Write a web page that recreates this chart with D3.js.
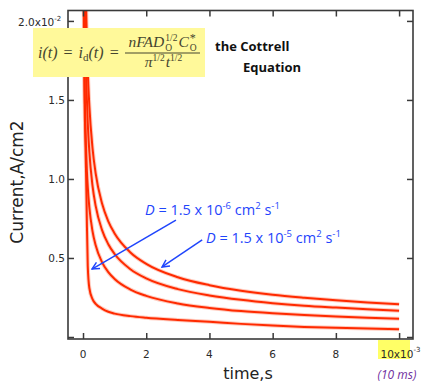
<!DOCTYPE html>
<html>
<head>
<meta charset="utf-8">
<script src="https://cdn.jsdelivr.net/npm/d3@7"></script>
<style>
body { margin:0; background:#fff; }
svg { display:block; }
</style>
</head>
<body>
<div id="chart"></div>
<script>
// time in ms, current in units of 10^-2 A/cm2
var timeMs = [0.02, 0.03, 0.05, 0.08, 0.1, 0.12, 0.15, 0.2, 0.3, 0.4, 0.6, 0.8, 1, 1.5, 2, 3, 4, 5, 6, 7, 8, 9, 10]
var curveA = [4.63, 3.78, 2.93, 2.32, 2.07, 1.89, 1.69, 1.465, 1.196, 1.036, 0.846, 0.732, 0.655, 0.535, 0.463, 0.378, 0.328, 0.293, 0.267, 0.248, 0.232, 0.218, 0.207]
var curveB = [3.71, 3.03, 2.35, 1.86, 1.66, 1.52, 1.356, 1.174, 0.958, 0.83, 0.678, 0.587, 0.525, 0.429, 0.371, 0.303, 0.263, 0.235, 0.214, 0.198, 0.186, 0.175, 0.166]
var curveC = [2.6, 2.12, 1.64, 1.3, 1.16, 1.06, 0.948, 0.821, 0.67, 0.58, 0.474, 0.41, 0.367, 0.3, 0.26, 0.212, 0.184, 0.164, 0.15, 0.139, 0.13, 0.122, 0.116]
var curveD = [2.3, 1.9, 1.5, 1.2, 1.0, 0.75, 0.45, 0.31, 0.24, 0.21, 0.18, 0.16, 0.148, 0.132, 0.122, 0.108, 0.096, 0.083, 0.072, 0.064, 0.058, 0.053, 0.049]
var seriesList = [curveA, curveB, curveC, curveD]

var xTicks = [0, 2, 4, 6, 8]
var yTicks = [0.5, 1.0, 1.5]
var xTickAll = [0, 2, 4, 6, 8, 10]
var yTickAll = [0, 0.5, 1.0, 1.5, 2.0]

var W = 424, H = 382
var svg = d3.select("#chart").append("svg").attr("width", W).attr("height", H)

var x = d3.scaleLinear().domain([-0.475, 10.44]).range([68, 413])
var y = d3.scaleLinear().domain([-0.0127, 2.066]).range([339, 10.5])

var blue = "#1f45fc"
var red = "#ff2a00"
var axisCol = "#3a3a3a"

// clip
svg.append("clipPath").attr("id", "clip")
	.append("rect")
	.attr("x", x.range()[0]).attr("y", y.range()[1])
	.attr("width", x.range()[1] - x.range()[0])
	.attr("height", y.range()[0] - y.range()[1])

var line = d3.line()
	.x(function(d, i){ return x(timeMs[i]) })
	.y(function(d){ return y(d) })
	.curve(d3.curveMonotoneX)

var curves = svg.append("g").attr("clip-path", "url(#clip)")
curves.selectAll("path.glow")
	.data(seriesList)
	.enter()
	.append("path")
	.attr("class", "glow")
	.attr("d", line)
	.attr("fill", "none")
	.attr("stroke", "#ff9a80")
	.attr("stroke-width", 4)
	.attr("stroke-opacity", 0.5)
curves.selectAll("path.main")
	.data(seriesList)
	.enter()
	.append("path")
	.attr("class", "main")
	.attr("d", line)
	.attr("fill", "none")
	.attr("stroke", red)
	.attr("stroke-width", 2)

// frame
svg.append("rect")
	.attr("x", x.range()[0]).attr("y", y.range()[1])
	.attr("width", x.range()[1] - x.range()[0])
	.attr("height", y.range()[0] - y.range()[1])
	.attr("fill", "none")
	.attr("stroke", axisCol)
	.attr("stroke-width", 1.6)

// inward ticks on all four sides
var tickLen = 6
svg.append("g").attr("transform", "translate(0," + y.range()[0] + ")")
	.call(d3.axisTop(x).tickValues(xTickAll).tickSize(tickLen).tickFormat(""))
svg.append("g").attr("transform", "translate(0," + y.range()[1] + ")")
	.call(d3.axisBottom(x).tickValues(xTickAll).tickSize(tickLen).tickFormat(""))
svg.append("g").attr("transform", "translate(" + x.range()[0] + ",0)")
	.call(d3.axisRight(y).tickValues(yTickAll).tickSize(tickLen).tickFormat(""))
svg.append("g").attr("transform", "translate(" + x.range()[1] + ",0)")
	.call(d3.axisLeft(y).tickValues(yTickAll).tickSize(tickLen).tickFormat(""))
svg.selectAll(".domain").remove()
svg.selectAll(".tick line").attr("stroke", axisCol).attr("stroke-width", 1.5)

// tick labels
var labFont = "'DejaVu Sans', sans-serif"
svg.selectAll("text.xl")
	.data(xTicks)
	.enter()
	.append("text")
	.attr("class", "xl")
	.attr("x", function(d){ return x(d) })
	.attr("y", 357.5)
	.attr("text-anchor", "middle")
	.attr("font-family", labFont)
	.attr("font-size", 10.5)
	.attr("fill", "#2a2a2a")
	.text(function(d){ return d })

svg.selectAll("text.yl")
	.data(yTicks)
	.enter()
	.append("text")
	.attr("class", "yl")
	.attr("x", 65)
	.attr("y", function(d){ return y(d) + 4 })
	.attr("text-anchor", "end")
	.attr("font-family", labFont)
	.attr("font-size", 10.5)
	.attr("fill", "#2a2a2a")
	.text(function(d){ return d.toFixed(1) })

// 2.0x10^-2 label
var topLab = svg.append("text")
	.attr("x", 18).attr("y", 25.5)
	.attr("font-family", labFont)
	.attr("font-size", 10.5)
	.attr("fill", "#2a2a2a")
topLab.append("tspan").text("2.0x10")
topLab.append("tspan").attr("dy", -5).attr("font-size", 7).text("-2")

// 10x10^-3 label with highlight
svg.append("rect")
	.attr("x", 378).attr("y", 340)
	.attr("width", 32).attr("height", 19)
	.attr("fill", "#ffff66")
var endLab = svg.append("text")
	.attr("x", 380.5).attr("y", 357.5)
	.attr("font-family", labFont)
	.attr("font-size", 10.5)
	.attr("fill", "#2a2a2a")
endLab.append("tspan").text("10x10")
endLab.append("tspan").attr("dy", -6).attr("font-size", 7).text("-3")

svg.append("text")
	.attr("x", 397).attr("y", 378.5)
	.attr("text-anchor", "middle")
	.attr("font-family", "'Open Sans', sans-serif")
	.attr("font-style", "italic")
	.attr("font-size", 12)
	.attr("fill", "#7030a0")
	.text("(10 ms)")

// axis titles
svg.append("text")
	.attr("x", 248).attr("y", 379)
	.attr("text-anchor", "middle")
	.attr("font-family", labFont)
	.attr("font-size", 16)
	.attr("fill", "#222")
	.text("time,s")

svg.append("text")
	.attr("transform", "translate(23,182) rotate(-90)")
	.attr("text-anchor", "middle")
	.attr("font-family", labFont)
	.attr("font-size", 17)
	.attr("fill", "#222")
	.text("Current,A/cm2")

// equation box
svg.append("rect")
	.attr("x", 33).attr("y", 28)
	.attr("width", 172).attr("height", 49)
	.attr("fill", "#fff99a")

var eqCol = "#45452f"
var serif = "'Liberation Serif', 'DejaVu Serif', serif"
function piece(g, px, py, str, size, italic) {
	var t = g.append("text")
		.attr("x", px).attr("y", py)
		.attr("font-family", serif)
		.attr("font-size", size)
		.attr("font-style", italic ? "italic" : "normal")
		.attr("fill", eqCol)
		.text(str)
	return t.node().getComputedTextLength()
}
var eq = svg.append("g")
var cx = 38, by = 58, gap = 6
cx += piece(eq, cx, by, "i(t)", 16, true) + gap
cx += piece(eq, cx, by, "=", 16, false) + gap
cx += piece(eq, cx, by, "i", 16, true)
cx += piece(eq, cx, by + 3, "d", 11, false)
cx += piece(eq, cx, by, "(t)", 16, true) + gap
cx += piece(eq, cx, by, "=", 16, false)

var num = svg.append("g")
var nx = 0, ny = 47
nx += piece(num, nx, ny, "nFAD", 15.5, true)
var w1 = piece(num, nx + 1, ny - 6, "1/2", 9.5, false)
var w2 = piece(num, nx + 1, ny + 3.5, "O", 9.5, false)
nx += Math.max(w1, w2) + 2
nx += piece(num, nx, ny, "C", 15.5, true)
w1 = piece(num, nx + 1, ny - 5.5, "*", 12, false)
w2 = piece(num, nx + 1, ny + 3.5, "O", 9.5, false)
nx += Math.max(w1, w2) + 1
num.attr("transform", "translate(" + (162.5 - nx / 2) + ",0)")

var den = svg.append("g")
var dx = 0, dy = 67
dx += piece(den, dx, dy, "\u03c0", 15.5, true)
dx += piece(den, dx, dy - 6, "1/2", 9.5, false) + 1
dx += piece(den, dx, dy, "t", 15.5, true)
dx += piece(den, dx, dy - 6, "1/2", 9.5, false)
den.attr("transform", "translate(" + (163.5 - dx / 2) + ",0)")

svg.append("line")
	.attr("x1", 125).attr("x2", 200)
	.attr("y1", 53).attr("y2", 53)
	.attr("stroke", eqCol).attr("stroke-width", 1)

// Cottrell caption
var capFont = "'Open Sans', sans-serif"
svg.append("text")
	.attr("x", 215).attr("y", 51)
	.attr("font-family", capFont)
	.attr("font-weight", "bold")
	.attr("font-size", 13)
	.attr("fill", "#111")
	.text("the Cottrell")
svg.append("text")
	.attr("x", 243).attr("y", 72)
	.attr("font-family", capFont)
	.attr("font-weight", "bold")
	.attr("font-size", 13)
	.attr("fill", "#111")
	.text("Equation")

// annotations (in data coordinates)
var notes = [
	{ tx: 1.96, ti: 0.772, exp: "-6", from: [2.94, 0.74], to: [0.285, 0.43] },
	{ tx: 3.89, ti: 0.595, exp: "-5", from: [3.77, 0.614], to: [2.5, 0.443] }
]
svg.append("defs").append("marker")
	.attr("id", "arr")
	.attr("viewBox", "0 0 10 10")
	.attr("refX", 9).attr("refY", 5)
	.attr("markerWidth", 6).attr("markerHeight", 6)
	.attr("orient", "auto")
	.append("path")
	.attr("d", "M1,1 L9,5 L1,9")
	.attr("fill", "none")
	.attr("stroke", blue)
	.attr("stroke-width", 1.6)

svg.selectAll("line.arrow")
	.data(notes)
	.enter()
	.append("line")
	.attr("class", "arrow")
	.attr("x1", function(d){ return x(d.from[0]) })
	.attr("y1", function(d){ return y(d.from[1]) })
	.attr("x2", function(d){ return x(d.to[0]) })
	.attr("y2", function(d){ return y(d.to[1]) })
	.attr("stroke", blue)
	.attr("stroke-width", 1.5)
	.attr("marker-end", "url(#arr)")

var noteFont = "'Open Sans', sans-serif"
notes.forEach(function(d){
	var t = svg.append("text")
		.attr("x", x(d.tx)).attr("y", y(d.ti))
		.attr("font-family", noteFont)
		.attr("font-size", 14.5)
		.attr("fill", blue)
	t.append("tspan").attr("font-style", "italic").text("D")
	t.append("tspan").text(" = 1.5 x 10")
	t.append("tspan").attr("dy", -5.5).attr("font-size", 9.5).text(d.exp)
	t.append("tspan").attr("dy", 5.5).text(" cm")
	t.append("tspan").attr("dy", -5.5).attr("font-size", 9.5).text("2")
	t.append("tspan").attr("dy", 5.5).text(" s")
	t.append("tspan").attr("dy", -5.5).attr("font-size", 9.5).text("-1")
})
</script>
</body>
</html>
